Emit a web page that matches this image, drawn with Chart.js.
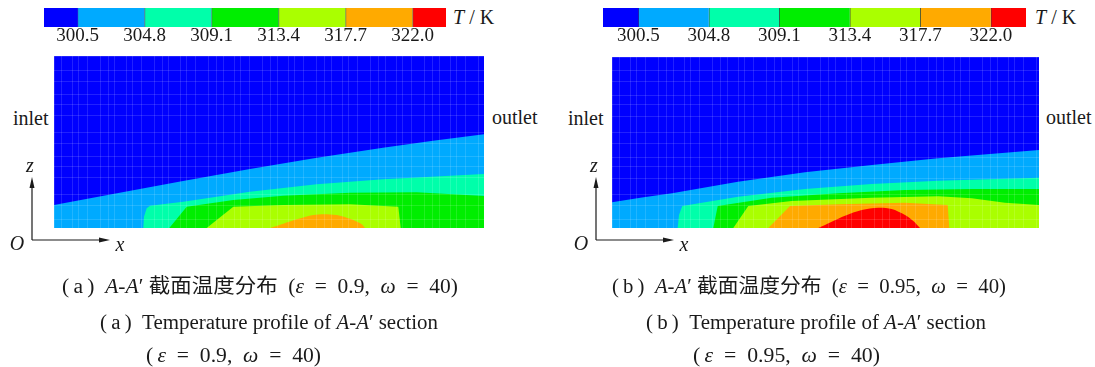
<!DOCTYPE html>
<html><head><meta charset="utf-8">
<script src="https://cdn.jsdelivr.net/npm/chart.js@4/dist/chart.umd.min.js"></script>
<style>
html,body{margin:0;padding:0;background:#fff;}
#root{position:relative;width:1095px;height:367px;overflow:hidden;font-family:"Liberation Serif","Noto Sans CJK SC",serif;color:#1a1a1a;}
canvas{position:absolute;}
.t{position:absolute;white-space:nowrap;}
.t i{font-style:italic;}
.cj{font-family:"Noto Sans CJK SC",sans-serif;}
.cap{font-size:20px;line-height:22px;transform-origin:0 50%;}
</style></head><body><div id="root">
<canvas id="cbA" width="402" height="44" style="left:44px;top:8px"></canvas>
<canvas id="cbB" width="423" height="44" style="left:603px;top:8px"></canvas>
<canvas id="plotA" width="430" height="172" style="left:54px;top:56px"></canvas>
<canvas id="plotB" width="427" height="171" style="left:612px;top:57px"></canvas>

<div class="t" style="left:453px;top:7px;font-size:20px;line-height:20px"><i>T</i> / K</div>
<div class="t" style="left:1035px;top:7px;font-size:20px;line-height:20px"><i>T</i> / K</div>

<div class="t" style="left:13px;top:108px;font-size:20px;line-height:20px">inlet</div>
<div class="t" style="left:492px;top:107px;font-size:20px;line-height:20px">outlet</div>
<div class="t" style="left:568px;top:108px;font-size:20px;line-height:20px">inlet</div>
<div class="t" style="left:1046px;top:107px;font-size:20px;line-height:20px">outlet</div>

<svg style="position:absolute;left:0;top:0" width="1095" height="367">
  <g stroke="#1a1a1a" stroke-width="1.2" fill="#1a1a1a">
    <line x1="32" y1="240" x2="32" y2="184"/><polygon points="32,177 29.5,188 34.5,188" stroke="none"/>
    <line x1="32" y1="240" x2="102" y2="240"/><polygon points="110,240 99,237.5 99,242.5" stroke="none"/>
    <line x1="596" y1="240" x2="596" y2="184"/><polygon points="596,177 593.5,188 598.5,188" stroke="none"/>
    <line x1="596" y1="240" x2="666" y2="240"/><polygon points="674,240 663,237.5 663,242.5" stroke="none"/>
  </g>
  <g font-family="Liberation Serif" font-style="italic" font-size="20" fill="#1a1a1a" text-anchor="middle">
    <text x="30" y="172">z</text><text x="17" y="250">O</text><text x="120" y="251">x</text>
    <text x="594" y="172">z</text><text x="581" y="250">O</text><text x="684" y="251">x</text>
  </g>
</svg>

<div class="t cap" data-l="62" data-r="458" style="top:274px">(&thinsp;a&thinsp;)&ensp;<i>A</i>-<i>A</i>′ <span class="cj">截面温度分布</span>&ensp;(<i>ε</i>&ensp;=&ensp;0.9,&ensp;<i>ω</i>&ensp;=&ensp;40)</div>
<div class="t cap" data-l="100" data-r="438" style="top:311px">(&thinsp;a&thinsp;)&ensp;Temperature profile of <i>A</i>-<i>A</i>′ section</div>
<div class="t cap" data-l="146" data-r="321" style="top:344px">(&thinsp;<i>ε</i>&ensp;=&ensp;0.9,&ensp;<i>ω</i>&ensp;=&ensp;40)</div>

<div class="t cap" data-l="612" data-r="1006" style="top:274px">(&thinsp;b&thinsp;)&ensp;<i>A</i>-<i>A</i>′ <span class="cj">截面温度分布</span>&ensp;(<i>ε</i>&ensp;=&ensp;0.95,&ensp;<i>ω</i>&ensp;=&ensp;40)</div>
<div class="t cap" data-l="646" data-r="986" style="top:311px">(&thinsp;b&thinsp;)&ensp;Temperature profile of <i>A</i>-<i>A</i>′ section</div>
<div class="t cap" data-l="693" data-r="880" style="top:344px">(&thinsp;<i>ε</i>&ensp;=&ensp;0.95,&ensp;<i>ω</i>&ensp;=&ensp;40)</div>
</div>
<script>
// ---------------- data ----------------
// colour-bar levels (K)
const levelTicks = [300.5, 304.8, 309.1, 313.4, 317.7, 322.0];
const levelNames = ['<300.5','300.5-304.8','304.8-309.1','309.1-313.4','313.4-317.7','317.7-322.0','>322.0'];

// Panel (a) ε = 0.9 : temperature-band outlines in section coordinates [x, z]
const regionA_blue        = [[0,0],[0,172],[430,172],[430,0]];
const regionA_lightBlue   = [[0,0],[0,23],[63,34.7],[129,47],[196,59],[263,70.3],[329,80.3],[379,87.3],[430,93.7],[430,0]];
const regionA_cyan        = [[89.3,0],[90,11.3],[92.7,19.7],[96,22.3],[129.3,26.3],[196,36.3],[262.7,43.7],[329.3,48.7],[430,54],[430,0]];
const regionA_green       = [[115.3,0],[132.7,21.3],[179.3,28],[229.3,32.3],[296,35.3],[362.7,35.7],[430,32],[430,0]];
const regionA_yellowGreen = [[152.7,0],[179.3,21.3],[229.3,23],[296,23.7],[344.3,21.3],[346.7,0]];
const regionA_orange      = [[216,0],[229.3,4.3],[242.7,8.7],[259.3,13],[272.7,13.7],[286,12.3],[299.3,8],[307.7,3.7],[311,0]];

// Panel (b) ε = 0.95
const regionB_blue        = [[0,0],[0,171],[427,171],[427,0]];
const regionB_lightBlue   = [[0,0],[0,25.7],[30,30.5],[60,34.7],[126,46.3],[193,55.7],[260,63],[326,69.7],[427,78],[427,0]];
const regionB_cyan        = [[65.7,0],[67,13],[70.3,22],[126.3,31.3],[193,39],[259.7,44],[326.3,47.3],[427,50.3],[427,0]];
const regionB_green       = [[101.3,0],[105.7,22],[159.7,30.3],[226.3,34.7],[293,38],[359.7,39],[427,39],[427,0]];
const regionB_yellowGreen = [[121.3,0],[136.3,22],[179.7,27],[259.7,30.3],[326.3,31.7],[359.7,29.7],[393,25.3],[427,23],[427,0]];
const regionB_orange      = [[156.3,0],[178,22],[226.3,23.7],[293,25.3],[335.7,23],[337.3,0]];
const regionB_red         = [[206.3,0],[219.7,6.3],[233,12.3],[249.7,18],[266.3,20.3],[279.7,19],[293,13],[301.3,7],[308,0]];

// ---------------- style ----------------
const levelColors = ['#0000FF','#00AAFF','#00FFAA','#00EE00','#AAFF00','#FFAA00','#FF0000'];

function colorbar(id){
  const step = levelTicks[1]-levelTicks[0];
  const edges = [levelTicks[0]-step/2, ...levelTicks, levelTicks[levelTicks.length-1]+step/2];
  new Chart(document.getElementById(id),{
    type:'bar',
    data:{labels:['T'],datasets:levelColors.map((c,i)=>({
      label:levelNames[i], data:[[edges[i],edges[i+1]]], backgroundColor:c,
      borderColor:'#3c3c3c', borderWidth:{left:i>0?1:0,right:0,top:0,bottom:0}, borderSkipped:false,
      grouped:false, barPercentage:1, categoryPercentage:1}))},
    options:{indexAxis:'y',responsive:false,animation:false,
      layout:{padding:{left:0,right:0,top:0,bottom:6}},
      plugins:{legend:{display:false},tooltip:{enabled:false}},
      scales:{
        x:{type:'linear',min:edges[0],max:edges[edges.length-1],
           afterBuildTicks:s=>{s.ticks=levelTicks.map(v=>({value:v}));},
           grid:{display:false,drawTicks:false},border:{display:false},
           ticks:{padding:3,autoSkip:false,maxRotation:0,color:'#1a1a1a',
             font:{family:'Liberation Serif',size:19,lineHeight:13/19},
             callback:v=>Number(v).toFixed(1)}},
        y:{display:false}
      }}
  });
}

function meshTicks(max, pattern){
  const out=[0]; let v=0, k=0;
  while(true){ v+=pattern[k%pattern.length]; k++; if(v>=max) break; out.push(v);} out.push(max);
  return out.map(x=>({value:x}));
}

function section(id, regions, w, h){
  const domeTension = 0.3;
  new Chart(document.getElementById(id),{
    type:'line',
    data:{datasets:regions.map((r,i)=>({
      label:r.name, data:r.pts.map(p=>({x:p[0],y:p[1]})),
      fill:'shape', backgroundColor:r.color, borderWidth:0, pointRadius:0,
      tension:r.dome?domeTension:0, order:regions.length-i}))},
    options:{responsive:false,animation:false,
      layout:{padding:0},
      plugins:{legend:{display:false},tooltip:{enabled:false}},
      scales:{
        x:{type:'linear',min:0,max:w,afterBuildTicks:s=>{s.ticks=meshTicks(w,[7,11,6,9,13,8]);},
           ticks:{display:false},grid:{color:'rgba(255,255,255,0.13)',drawTicks:false,z:1},border:{display:false}},
        y:{type:'linear',min:0,max:h,afterBuildTicks:s=>{s.ticks=meshTicks(h,[9,14,11,16,12]);},
           ticks:{display:false},grid:{color:'rgba(255,255,255,0.13)',drawTicks:false,z:1},border:{display:false}}
      }}
  });
}

colorbar('cbA');
colorbar('cbB');
section('plotA',[
  {name:'<300.5',pts:regionA_blue,color:levelColors[0]},
  {name:'300.5-304.8',pts:regionA_lightBlue,color:levelColors[1]},
  {name:'304.8-309.1',pts:regionA_cyan,color:levelColors[2]},
  {name:'309.1-313.4',pts:regionA_green,color:levelColors[3]},
  {name:'313.4-317.7',pts:regionA_yellowGreen,color:levelColors[4]},
  {name:'317.7-322.0',pts:regionA_orange,color:levelColors[5],dome:true}
],430,172);
section('plotB',[
  {name:'<300.5',pts:regionB_blue,color:levelColors[0]},
  {name:'300.5-304.8',pts:regionB_lightBlue,color:levelColors[1]},
  {name:'304.8-309.1',pts:regionB_cyan,color:levelColors[2]},
  {name:'309.1-313.4',pts:regionB_green,color:levelColors[3]},
  {name:'313.4-317.7',pts:regionB_yellowGreen,color:levelColors[4]},
  {name:'317.7-322.0',pts:regionB_orange,color:levelColors[5]},
  {name:'>322.0',pts:regionB_red,color:levelColors[6],dome:true}
],427,171);

// fit caption lines to their measured extents in the figure
document.querySelectorAll('.cap').forEach(el=>{
  const l=+el.dataset.l, r=+el.dataset.r;
  el.style.left=l+'px';
  const w=el.getBoundingClientRect().width;
  el.style.transform='scaleX('+((r-l)/w).toFixed(4)+')';
});
</script>
</body></html>
